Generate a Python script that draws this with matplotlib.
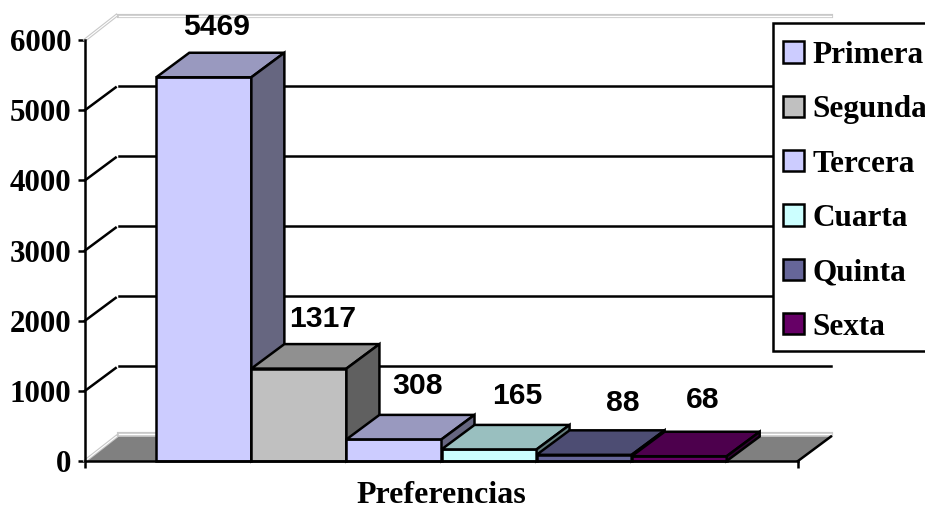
#!/usr/bin/env python3
"""Pseudo-3D column chart of preferences, drawn on a flat axes."""

import matplotlib

matplotlib.use("Agg")
import matplotlib.pyplot as plt
from matplotlib.patches import Patch, Polygon, Rectangle

categories = ["Primera", "Segunda", "Tercera", "Cuarta", "Quinta", "Sexta"]
values = [5469, 1317, 308, 165, 88, 68]
colors = ["#CCCCFF", "#C0C0C0", "#CCCCFF", "#CCFFFF", "#666699", "#660066"]
y_ticks = [0, 1000, 2000, 3000, 4000, 5000, 6000]

# hand placed data labels, pixels away from the top of each bar
label_dx = [13, 24, 24, 28, 39, 23]
label_dy = [50, 50, 53, 53, 52, 56]

W, H = 925, 508
XLIM = (-1.25, 6.25)
YLIM = (0, 6000)
DEPTH_X = 33 / 95.07  # depth of the floor in category units
DEPTH_Y = 24.5 * 6000 / 421  # same in value units
SERIF = "Liberation Serif"
SANS = "Liberation Sans"
LW = 1.8


def shade(color, factor):
    rgb = matplotlib.colors.to_rgb(color)
    return tuple(c * factor for c in rgb)


def draw_bar(ax, x, value, color):
    x0, x1 = x - 0.5, x + 0.5
    faces = [
        ([(x0, 0), (x1, 0), (x1, value), (x0, value)], color),
        (
            [
                (x0, value),
                (x1, value),
                (x1 + DEPTH_X, value + DEPTH_Y),
                (x0 + DEPTH_X, value + DEPTH_Y),
            ],
            shade(color, 0.75),
        ),
        (
            [
                (x1, 0),
                (x1 + DEPTH_X, DEPTH_Y),
                (x1 + DEPTH_X, value + DEPTH_Y),
                (x1, value),
            ],
            shade(color, 0.5),
        ),
    ]
    for points, face in faces:
        ax.add_patch(
            Polygon(
                points,
                closed=True,
                facecolor=face,
                edgecolor="black",
                linewidth=LW,
                joinstyle="miter",
                clip_on=False,
                zorder=3,
            )
        )


def main():
    plt.rcParams["font.family"] = SERIF
    plt.rcParams["font.weight"] = "bold"

    fig = plt.figure(figsize=(W / 100, H / 100), dpi=100)
    ax = fig.add_axes([85 / W, (H - 461) / H, 713 / W, 421 / H])
    ax.set_xlim(*XLIM)
    ax.set_ylim(*YLIM)
    ax.patch.set_alpha(0)

    # floor
    x0, x1 = XLIM
    ax.add_patch(
        Polygon(
            [(x0, 0), (x1, 0), (x1 + DEPTH_X, DEPTH_Y), (x0 + DEPTH_X, DEPTH_Y)],
            closed=True,
            facecolor="#808080",
            edgecolor="none",
            clip_on=False,
            zorder=1,
        )
    )

    # side wall and back wall lines
    for tick in y_ticks:
        back = tick + DEPTH_Y
        if tick in (YLIM[0], YLIM[1]):
            nudge = 30 if tick == 0 else 0
            for width, col in ((3.0, "#C8C8C8"), (1.0, "white")):
                ax.plot(
                    [x0 + DEPTH_X * 1.03, x1 + DEPTH_X],
                    [back + nudge, back + nudge],
                    color=col,
                    lw=width,
                    clip_on=False,
                    zorder=2,
                )
                ax.plot(
                    [x0, x0 + DEPTH_X * 0.95],
                    [tick, back],
                    color=col,
                    lw=width * 0.8,
                    clip_on=False,
                    zorder=2,
                )
        else:
            ax.plot(
                [x0, x0 + DEPTH_X * 0.93],
                [tick, tick + DEPTH_Y * 0.93],
                color="black",
                lw=LW,
                clip_on=False,
                zorder=2,
            )
            ax.plot(
                [x0 + DEPTH_X * 1.03, x1 + DEPTH_X],
                [back, back],
                color="black",
                lw=LW,
                clip_on=False,
                zorder=2,
            )
    ax.plot(
        [x1, x1 + DEPTH_X], [0, DEPTH_Y], color="black", lw=LW, clip_on=False, zorder=2
    )

    for i, (value, color) in enumerate(zip(values, colors)):
        draw_bar(ax, i, value, color)

    for i, value in enumerate(values):
        ax.annotate(
            str(value),
            xy=(i, value),
            xytext=(label_dx[i] * 0.72, label_dy[i] * 0.72),
            textcoords="offset points",
            ha="center",
            va="center",
            family=SANS,
            fontsize=21.7,
            fontweight="bold",
            zorder=5,
            annotation_clip=False,
        )

    ax.spines["top"].set_visible(False)
    ax.spines["right"].set_visible(False)
    for side in ("left", "bottom"):
        ax.spines[side].set_linewidth(LW)
        ax.spines[side].set_zorder(4)
    ax.set_yticks(y_ticks)
    ax.set_xticks(list(XLIM))
    ax.set_xticklabels([])
    ax.tick_params(axis="y", length=5, width=LW, pad=5, labelsize=22.3)
    ax.tick_params(axis="x", length=5, width=LW)
    ax.set_xlabel("Preferencias", fontsize=23, fontweight="bold", labelpad=6)

    # the legend box runs off the right edge of the picture
    fig.add_artist(
        Rectangle(
            (773 / W, 1 - 351 / H),
            200 / W,
            328 / H,
            transform=fig.transFigure,
            facecolor="white",
            edgecolor="black",
            linewidth=LW,
            zorder=5,
        )
    )
    handles = [Patch(facecolor=c, edgecolor="black", linewidth=LW) for c in colors]
    legend = fig.legend(
        handles,
        categories,
        loc="upper left",
        bbox_to_anchor=(783 / W, 1 - 41 / H),
        borderaxespad=0,
        frameon=False,
        prop={"family": SERIF, "weight": "bold", "size": 22.5},
        handlelength=0.68,
        handleheight=0.68,
        handletextpad=0.26,
        borderpad=0,
        labelspacing=0.81,
    )
    legend.set_zorder(6)

    fig.savefig("out.png", dpi=100)
    plt.close(fig)


if __name__ == "__main__":
    main()
